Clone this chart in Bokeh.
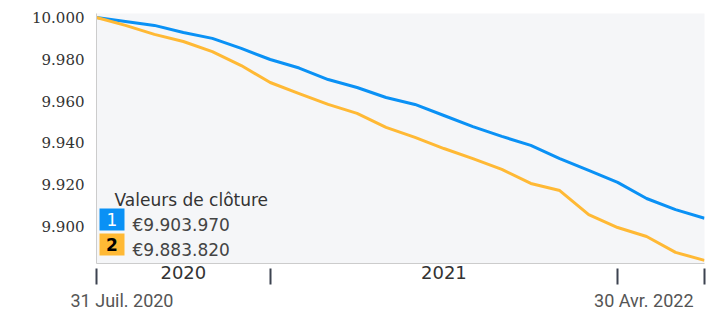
from bokeh.plotting import figure
from bokeh.models import Range1d, FixedTicker, Label, BoxAnnotation
from bokeh.layouts import column
from bokeh.core.properties import value
from bokeh.embed import file_html
from bokeh.resources import INLINE

# ---- data ----
months = ["2020-07", "2020-08", "2020-09", "2020-10", "2020-11", "2020-12",
          "2021-01", "2021-02", "2021-03", "2021-04", "2021-05", "2021-06",
          "2021-07", "2021-08", "2021-09", "2021-10", "2021-11", "2021-12",
          "2022-01", "2022-02", "2022-03", "2022-04"]
series_1 = [10000.0, 9998.1, 9996.2, 9992.8, 9990.0, 9985.2, 9979.9, 9975.8,
            9970.3, 9966.5, 9961.7, 9958.4, 9953.1, 9947.8, 9943.1, 9938.8,
            9932.5, 9926.8, 9921.1, 9913.4, 9908.1, 9903.97]
series_2 = [10000.0, 9996.2, 9991.9, 9988.5, 9983.7, 9977.0, 9968.9, 9963.6,
            9958.4, 9954.1, 9947.4, 9942.6, 9937.3, 9932.5, 9927.3, 9920.6,
            9917.2, 9905.7, 9899.5, 9895.2, 9887.6, 9883.82]
y_ticks = [9900, 9920, 9940, 9960, 9980, 10000]
y_tick_labels = ["9.900", "9.920", "9.940", "9.960", "9.980", "10.000"]
year_labels = ["2020", "2021"]
start_label = "31 Juil. 2020"
end_label = "30 Avr. 2022"
legend_title = "Valeurs de clôture"
legend_numbers = ["1", "2"]
legend_values = ["€9.903.970", "€9.883.820"]

BLUE = "#0A91F5"
YELLOW = "#FFB935"

W = 714
LEFT, RIGHT, TOP, BOTTOM = 96, 10, 13, 25
FRAME_W = W - LEFT - RIGHT

x = list(range(len(months)))
n_last = len(months) - 1
boundaries = [0] + [i for i, m in enumerate(months) if m.endswith("-01")] + [n_last]
year_pos = [(boundaries[k] + boundaries[k + 1]) / 2 for k in range(len(year_labels))]

p = figure(width=W, height=288, output_backend="svg", toolbar_location=None,
           x_range=Range1d(0, n_last), y_range=Range1d(9882.3, 10001.9),
           min_border_left=LEFT, min_border_right=RIGHT, min_border_top=TOP,
           min_border_bottom=BOTTOM)
p.frame_align = False
p.background_fill_color = "#F5F6F8"
p.border_fill_color = "white"
p.outline_line_color = None
p.xgrid.visible = False
p.ygrid.visible = False

p.line(x, series_1, line_color=BLUE, line_width=3, line_join="round")
p.line(x, series_2, line_color=YELLOW, line_width=3, line_join="round")

# y axis
ya = p.yaxis[0]
ya.ticker = FixedTicker(ticks=y_ticks)
ya.major_label_overrides = {t: l for t, l in zip(y_ticks, y_tick_labels)}
ya.axis_line_color = "#CCCCCC"
ya.major_tick_line_color = None
ya.minor_tick_line_color = None
ya.major_label_standoff = 6
ya.major_label_text_font = "DejaVu Serif"
ya.major_label_text_font_size = "15px"
ya.major_label_text_color = "#333333"

# x axis
xa = p.xaxis[0]
xa.ticker = FixedTicker(ticks=year_pos, minor_ticks=boundaries)
xa.major_label_overrides = {t: l for t, l in zip(year_pos, year_labels)}
xa.axis_line_color = "#CCCCCC"
xa.major_tick_line_color = None
xa.major_tick_in = 0
xa.major_tick_out = 0
xa.minor_tick_in = -5
xa.minor_tick_out = 21
xa.minor_tick_line_color = "#3C4350"
xa.minor_tick_line_width = 2
xa.major_label_standoff = -19
xa.major_label_text_font = "DejaVu Sans"
xa.major_label_text_font_size = "18px"
xa.major_label_text_color = "#333333"

# legend
p.add_layout(Label(x=18, y=64, x_units="screen", y_units="screen", text=legend_title,
                   text_baseline="alphabetic", text_font="DejaVu Sans",
                   text_font_size="17px", text_color="#333333"))
colors = [BLUE, YELLOW]
num_colors = ["white", "black"]
for k in range(2):
    top = 55 - 25 * k
    p.add_layout(BoxAnnotation(left=3, right=28, top=top, bottom=top - 22,
                               left_units="screen", right_units="screen",
                               top_units="screen", bottom_units="screen",
                               fill_color=colors[k], fill_alpha=1, line_color=None))
    p.add_layout(Label(x=15.5, y=top - 11, x_units="screen", y_units="screen",
                       text=legend_numbers[k], text_align="center", text_baseline="middle",
                       text_font="DejaVu Sans", text_font_size="17px",
                       text_font_style="bold" if k == 1 else "normal",
                       text_color=num_colors[k]))
    p.add_layout(Label(x=36, y=top - 16, x_units="screen", y_units="screen",
                       text=legend_values[k], text_baseline="alphabetic",
                       text_font="DejaVu Sans", text_font_size="17px", text_color="#444444"))

# strip below with the first / last date, sharing the main chart's x scale
px_per_unit = FRAME_W / n_last
p2 = figure(width=W, height=23, output_backend="svg", toolbar_location=None,
            x_range=Range1d(-LEFT / px_per_unit, (W - LEFT) / px_per_unit),
            y_range=Range1d(-11, 12), x_axis_type=None, y_axis_type=None,
            min_border=0)
p2.frame_align = False
p2.title.visible = False
p2.background_fill_color = "white"
p2.border_fill_color = "white"
p2.outline_line_color = None
p2.grid.visible = False
p2.text(x=[0], y=[0], text=[start_label], x_offset=-26, text_align="left",
        text_baseline="alphabetic", text_font=value("Roboto"), text_font_size=value("18px"),
        text_color="#555555")
p2.text(x=[n_last], y=[0], text=[end_label], x_offset=-11, text_align="right",
        text_baseline="alphabetic", text_font=value("Roboto"), text_font_size=value("18px"),
        text_color="#555555")

layout = column(p, p2, spacing=0)
open("out.html", "w").write(file_html(layout, INLINE))
